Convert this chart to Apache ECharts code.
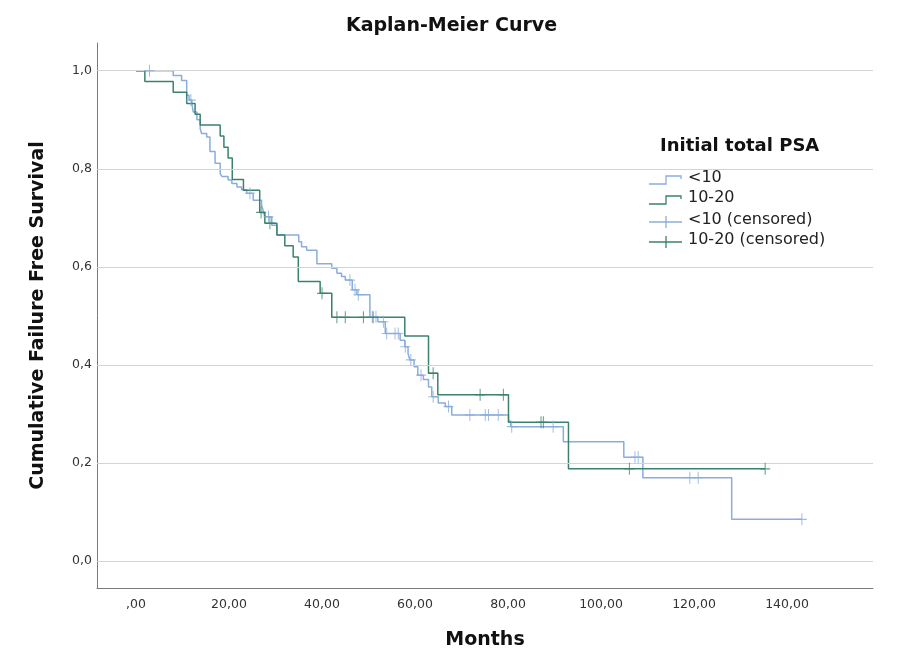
<!DOCTYPE html>
<html>
<head>
<meta charset="utf-8">
<script src="https://cdn.jsdelivr.net/npm/echarts@6/dist/echarts.min.js"></script>
<style>
html,body{margin:0;padding:0;background:#fff;}
#c{width:903px;height:670px;}
</style>
</head>
<body>
<div id="c"></div>
<script>
// ---- data ----
const xTickValues = [0, 20, 40, 60, 80, 100, 120, 140];
const yTickValues = [0, 0.2, 0.4, 0.6, 0.8, 1.0];

const seriesNames = ['<10', '10-20', '<10 (censored)', '10-20 (censored)'];

// <10 : event times (months) and survival after each step
const lt10Times = [0, 8.0, 9.8, 10.9, 11.4, 12.0, 12.3, 13.1, 13.8, 14.1, 15.2, 15.9, 17.0, 18.1, 18.5, 19.8, 20.6, 21.7, 22.7, 23.8, 25.2, 27.0, 27.3, 27.7, 29.2, 30.3, 35.0, 35.6, 36.7, 38.9, 42.1, 43.2, 44.2, 45.0, 46.5, 47.5, 50.3, 52.0, 53.6, 56.8, 57.8, 58.5, 58.9, 59.8, 60.6, 61.8, 62.9, 63.6, 65.0, 66.5, 67.9, 80.1, 80.6, 91.9, 104.9, 109.0, 128.1, 143.2];
const lt10Surv  = [1.0, 0.99, 0.98, 0.95, 0.94, 0.933, 0.916, 0.90, 0.882, 0.872, 0.865, 0.835, 0.811, 0.79, 0.784, 0.777, 0.770, 0.763, 0.757, 0.75, 0.736, 0.726, 0.716, 0.702, 0.685, 0.665, 0.651, 0.641, 0.634, 0.606, 0.597, 0.587, 0.58, 0.573, 0.553, 0.543, 0.498, 0.488, 0.464, 0.45, 0.437, 0.423, 0.41, 0.396, 0.379, 0.37, 0.355, 0.335, 0.322, 0.315, 0.298, 0.285, 0.274, 0.243, 0.2115, 0.17, 0.085, 0.085];
const lt10Censored = [2.9, 11.8, 24.5, 28.5, 46.0, 47.1, 47.8, 50.8, 51.6, 53.2, 53.9, 55.7, 56.4, 57.9, 59.1, 61.3, 63.9, 67.2, 71.8, 75.1, 75.8, 77.9, 80.8, 89.7, 107.3, 108.0, 119.1, 120.9, 143.2];

// 10-20
const g1020Times = [0, 1.9, 8.0, 10.9, 12.7, 13.8, 18.1, 18.9, 19.8, 20.7, 23.1, 26.6, 27.7, 30.3, 32.0, 33.8, 34.9, 39.6, 42.1, 57.8, 62.9, 64.9, 80.1, 93.0, 135.3];
const g1020Surv  = [1.0, 0.978, 0.956, 0.933, 0.911, 0.889, 0.867, 0.844, 0.822, 0.778, 0.756, 0.711, 0.689, 0.665, 0.643, 0.62, 0.57, 0.546, 0.497, 0.459, 0.383, 0.339, 0.283, 0.188, 0.188];
const g1020Censored = [26.9, 28.8, 40.0, 43.2, 45.0, 48.9, 51.0, 63.9, 74.0, 79.0, 87.1, 87.6, 106.1, 135.3];

// ---- build ----
const colLt10 = '#8BACDD';
const colG = '#3A826E';

function pairs(t, s) { return t.map((v, i) => [v, s[i]]); }
function survAt(t, times, surv) {
  let v = surv[0];
  for (let i = 0; i < times.length; i++) { if (times[i] <= t) v = surv[i]; }
  return v;
}
const plusPath = 'path://M9,0H11V9H20V11H11V20H9V11H0V9H9Z';

const chart = echarts.init(document.getElementById('c'), null, {renderer: 'canvas'});
const FONT = 'DejaVu Sans';

const legendX = 649, legendTextX = 688, rowY = [180, 200, 222, 242];
function stepIcon(y, c) {
  return {type: 'polyline', shape: {points: [[legendX, y + 4], [legendX + 17, y + 4], [legendX + 17, y - 4], [legendX + 32, y - 4], [legendX + 32, y - 1]]},
          style: {stroke: c, lineWidth: 1.3, fill: null}, silent: true};
}
function censIcon(y, c) {
  return [
    {type: 'line', shape: {x1: legendX, y1: y, x2: legendX + 33, y2: y}, style: {stroke: c, lineWidth: 1.3}, silent: true},
    {type: 'line', shape: {x1: legendX + 17, y1: y - 6, x2: legendX + 17, y2: y + 6}, style: {stroke: c, lineWidth: 1.3}, silent: true}
  ];
}
const legendText = (i) => ({type: 'text', left: legendTextX, top: rowY[i] - 10,
  style: {text: seriesNames[i], font: '16px "' + FONT + '"', fill: '#222'}});

chart.setOption({
  animation: false,
  backgroundColor: '#fff',
  title: {text: 'Kaplan-Meier Curve', left: 'center', top: 12,
    textStyle: {fontFamily: FONT, fontSize: 19, fontWeight: 'bold', color: '#111'}},
  grid: {left: 97, right: 30, top: 43, bottom: 82},
  xAxis: {
    type: 'value', min: -8.39, max: 158.49,
    name: 'Months', nameLocation: 'middle', nameGap: 43,
    nameTextStyle: {fontFamily: FONT, fontSize: 19, fontWeight: 'bold', color: '#111'},
    axisLine: {show: true, onZero: false, lineStyle: {color: '#7a7a7a', width: 1}},
    axisTick: {show: false},
    splitLine: {show: false},
    axisLabel: {customValues: xTickValues, margin: 10, fontFamily: FONT, fontSize: 12.5, color: '#333',
      formatter: v => (v === 0 ? ',00' : v.toFixed(2).replace('.', ','))}
  },
  yAxis: {
    type: 'value', min: -0.0551, max: 1.0565,
    name: 'Cumulative Failure Free Survival', nameLocation: 'middle', nameGap: 49, nameRotate: 90,
    nameTextStyle: {fontFamily: FONT, fontSize: 19, fontWeight: 'bold', color: '#111'},
    axisLine: {show: true, onZero: false, lineStyle: {color: '#7a7a7a', width: 1}},
    axisTick: {show: false},
    splitLine: {show: false},
    axisLabel: {customValues: yTickValues, margin: 5, fontFamily: FONT, fontSize: 12.5, color: '#333',
      formatter: v => v.toFixed(1).replace('.', ',')}
  },
  series: [
    {type: 'line', data: [], silent: true, z: 1,
      markLine: {silent: true, symbol: ['none', 'none'], label: {show: false},
        lineStyle: {color: '#d4d4d4', type: 'solid', width: 1},
        data: yTickValues.map(v => ({yAxis: v}))}},
    {name: seriesNames[0], type: 'line', step: 'end', data: pairs(lt10Times, lt10Surv), showSymbol: false,
      lineStyle: {color: colLt10, width: 1.5}, z: 3},
    {name: seriesNames[1], type: 'line', step: 'end', data: pairs(g1020Times, g1020Surv), showSymbol: false,
      lineStyle: {color: colG, width: 1.5}, z: 4},
    {name: seriesNames[2], type: 'scatter', data: lt10Censored.map(t => [t, survAt(t, lt10Times, lt10Surv)]),
      symbol: plusPath, symbolSize: [10, 12], itemStyle: {color: colLt10}, z: 5},
    {name: seriesNames[3], type: 'scatter', data: g1020Censored.map(t => [t, survAt(t, g1020Times, g1020Surv)]),
      symbol: plusPath, symbolSize: [10, 12], itemStyle: {color: colG}, z: 6}
  ],
  graphic: [
    {type: 'text', left: 660, top: 137, style: {text: 'Initial total PSA', font: 'bold 18px "' + FONT + '"', fill: '#111'}},
    stepIcon(rowY[0], colLt10), legendText(0),
    stepIcon(rowY[1], colG), legendText(1),
    ...censIcon(rowY[2], colLt10), legendText(2),
    ...censIcon(rowY[3], colG), legendText(3)
  ]
});
</script>
</body>
</html>
